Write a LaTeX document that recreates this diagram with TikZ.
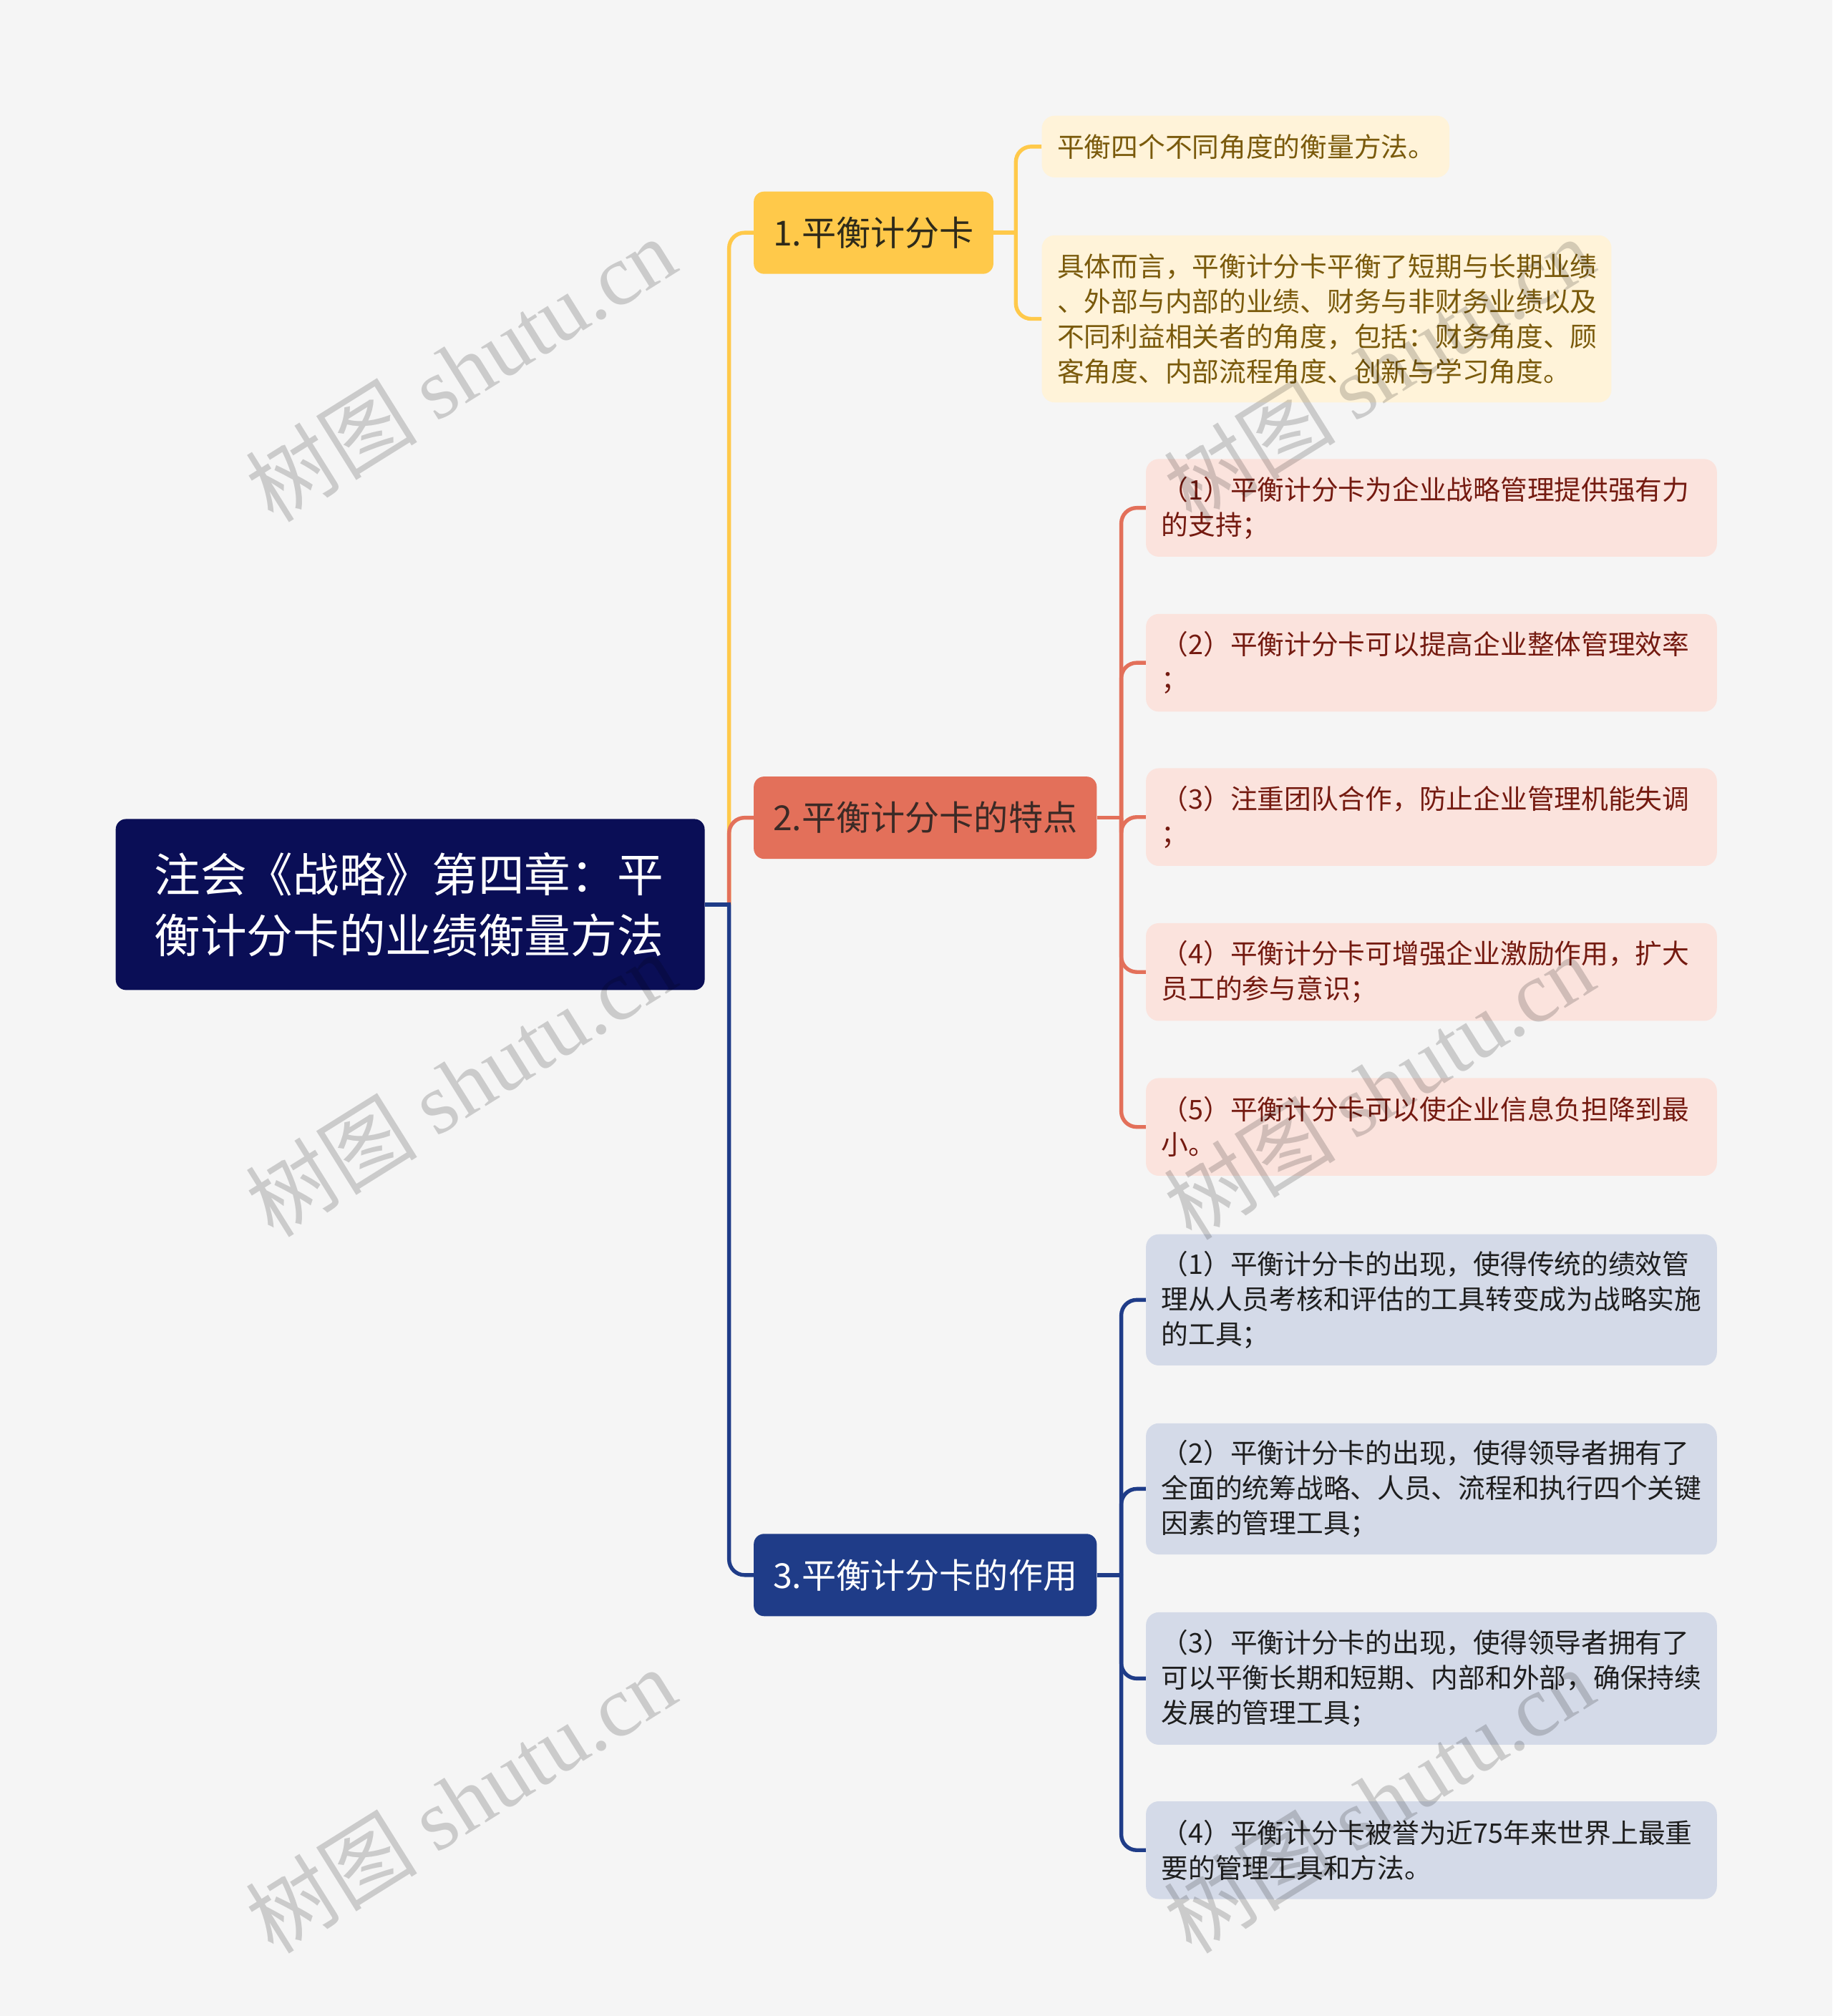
\documentclass[tikz,border=0pt]{standalone}
\usepackage{fontspec}
\setmainfont{Noto Sans CJK SC}
\newfontfamily\wmlatin{Liberation Serif}
\definecolor{bg}{HTML}{F5F5F5}
\definecolor{rootc}{HTML}{0A0E56}
\definecolor{yel}{HTML}{FFC94A}
\definecolor{cor}{HTML}{E3705A}
\definecolor{blu}{HTML}{1F3C88}
\definecolor{yleaf}{HTML}{FFF3D9}
\definecolor{yleaftxt}{HTML}{7A5A0C}
\definecolor{cleaf}{HTML}{FBE3DD}
\definecolor{cleaftxt}{HTML}{741A10}
\definecolor{bleaf}{HTML}{D4DAE8}
\definecolor{bleaftxt}{HTML}{1E1E1E}
\definecolor{bonetxt}{HTML}{2E2A1A}
\definecolor{btwotxt}{HTML}{3B2A26}
\tikzset{
  conn/.style={line width=3pt, rounded corners=12pt},
  branchbox/.style={rounded corners=8pt, anchor=west, inner xsep=15pt, inner ysep=0pt,
    minimum height=64pt, font=\fontsize{26.8}{32}\selectfont},
  leafbox/.style={rounded corners=10pt, anchor=west, inner xsep=12pt, inner ysep=0pt,
    align=left, font=\fontsize{21}{27.3}\selectfont},
  yleafbox/.style={leafbox, fill=yleaf, text=yleaftxt},
  cleafbox/.style={leafbox, fill=cleaf, text=cleaftxt, text width=420pt, minimum height=76pt},
  bleafbox/.style={leafbox, fill=bleaf, text=bleaftxt, text width=420pt},
  wm/.style={rotate=32, text=black, text opacity=0.17, font=\fontsize{67}{67}\selectfont}
}
\begin{document}
\begin{tikzpicture}[x=1pt, y=-1pt]
\useasboundingbox (0,0) rectangle (1425,1568);
\fill[bg] (0,0) rectangle (1425,1568);

% root
\node[rounded corners=8pt, fill=rootc, text=white, text width=398pt, inner xsep=30pt, inner ysep=0pt,
  minimum height=133pt, align=left, font=\fontsize{36}{47}\selectfont] (root) at (319,703.5)
  {注会《战略》第四章：平\\衡计分卡的业绩衡量方法};

% branches
\node[branchbox, fill=yel, text=bonetxt] (b1) at (586,181) {1.平衡计分卡};
\node[branchbox, fill=cor, text=btwotxt] (b2) at (586,636) {2.平衡计分卡的特点};
\node[branchbox, fill=blu, text=white] (b3) at (586,1225) {3.平衡计分卡的作用};

% leaves of branch 1
\node[yleafbox, text width=293pt, minimum height=48pt] (l1a) at (810,114) {平衡四个不同角度的衡量方法。};
\node[yleafbox, text width=419pt, minimum height=130pt] (l1b) at (810,248)
  {具体而言，平衡计分卡平衡了短期与长期业绩\\、外部与内部的业绩、财务与非财务业绩以及\\不同利益相关者的角度，包括：财务角度、顾\\客角度、内部流程角度、创新与学习角度。};

% leaves of branch 2
\node[cleafbox] (l2a) at (891,395) {（1）平衡计分卡为企业战略管理提供强有力\\的支持；};
\node[cleafbox] (l2b) at (891,515.5) {（2）平衡计分卡可以提高企业整体管理效率\\；};
\node[cleafbox] (l2c) at (891,635.5) {（3）注重团队合作，防止企业管理机能失调\\；};
\node[cleafbox] (l2d) at (891,756) {（4）平衡计分卡可增强企业激励作用，扩大\\员工的参与意识；};
\node[cleafbox] (l2e) at (891,876.5) {（5）平衡计分卡可以使企业信息负担降到最\\小。};

% leaves of branch 3
\node[bleafbox, minimum height=102pt] (l3a) at (891,1011) {（1）平衡计分卡的出现，使得传统的绩效管\\理从人员考核和评估的工具转变成为战略实施\\的工具；};
\node[bleafbox, minimum height=102pt] (l3b) at (891,1158) {（2）平衡计分卡的出现，使得领导者拥有了\\全面的统筹战略、人员、流程和执行四个关键\\因素的管理工具；};
\node[bleafbox, minimum height=103pt] (l3c) at (891,1305.5) {（3）平衡计分卡的出现，使得领导者拥有了\\可以平衡长期和短期、内部和外部，确保持续\\发展的管理工具；};
\node[bleafbox, minimum height=76pt] (l3d) at (891,1439) {（4）平衡计分卡被誉为近75年来世界上最重\\要的管理工具和方法。};

% connectors root -> branches
\coordinate (t0) at (567,703.5);
\draw[yel, conn] (t0) |- (b1.west);
\draw[cor, conn] (t0) |- (b2.west);
\draw[blu, conn] (t0) |- (b3.west);
\draw[blu, line width=3pt] (root.east) -- ([xshift=1.5pt]t0);

% branch 1 -> leaves
\coordinate (j1) at (790,181);
\draw[yel, line width=3pt] (b1.east) -- ([xshift=1.5pt]j1);
\draw[yel, conn] (j1) |- (l1a.west);
\draw[yel, conn] (j1) |- (l1b.west);

% branch 2 -> leaves
\coordinate (j2) at (872,636);
\draw[cor, line width=3pt] (b2.east) -- ([xshift=1.5pt]j2);
\foreach \n in {l2a,l2b,l2c,l2d,l2e}{\draw[cor, conn] (j2) |- (\n.west);}

% branch 3 -> leaves
\coordinate (j3) at (872,1225);
\draw[blu, line width=3pt] (b3.east) -- ([xshift=1.5pt]j3);
\foreach \n in {l3a,l3b,l3c,l3d}{\draw[blu, conn] (j3) |- (\n.west);}

% watermarks
\node[wm] (w1) at (358,287) {树图 {\wmlatin shutu.cn}};
\node[wm] (w2) at (358,843) {树图 {\wmlatin shutu.cn}};
\node[wm] (w3) at (358,1400) {树图 {\wmlatin shutu.cn}};
\node[wm] (w4) at (1072,287) {树图 {\wmlatin shutu.cn}};
\node[wm] (w5) at (1072,845) {树图 {\wmlatin shutu.cn}};
\node[wm] (w6) at (1072,1400) {树图 {\wmlatin shutu.cn}};
\end{tikzpicture}
\end{document}
